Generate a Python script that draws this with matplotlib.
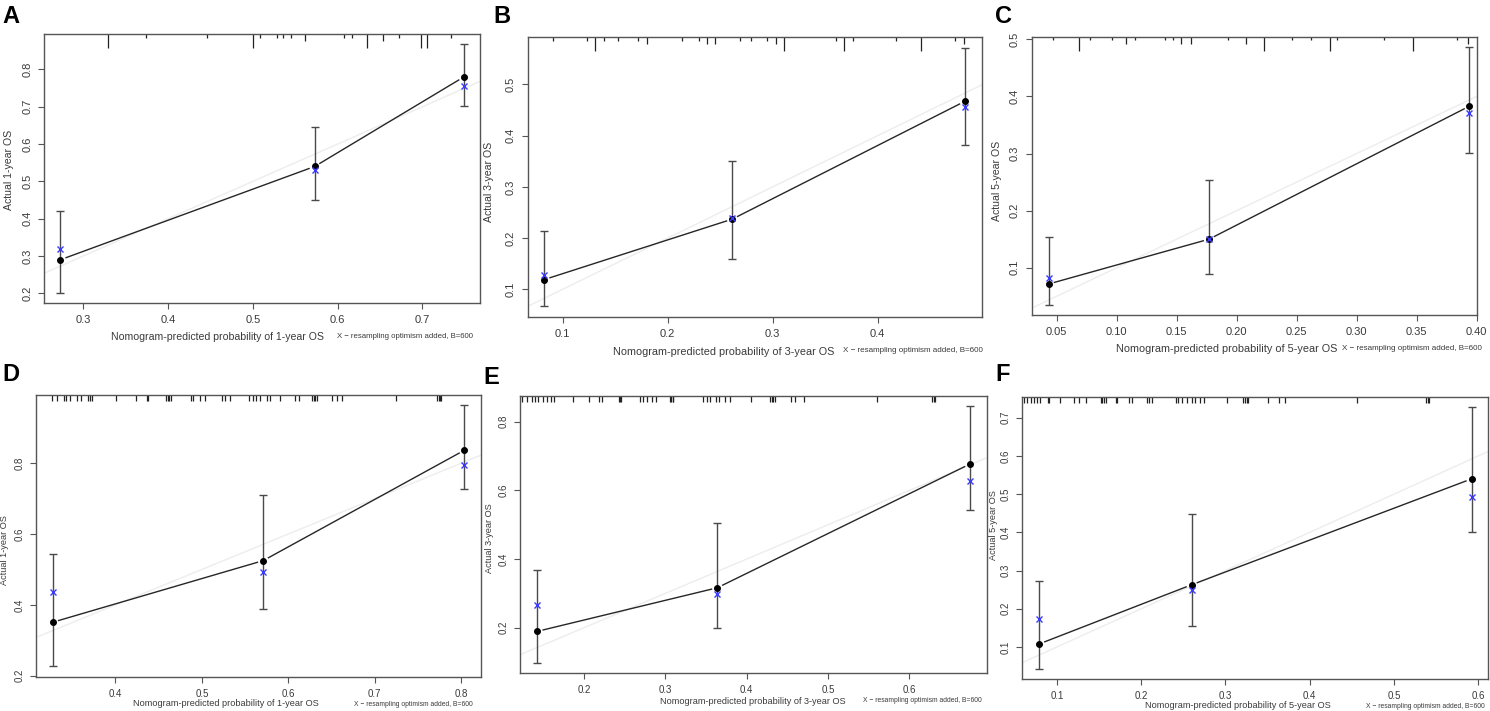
import numpy as np
import matplotlib
matplotlib.use("Agg")
import matplotlib.pyplot as plt
import matplotlib.transforms as mtransforms

plt.rcParams['font.family'] = ['Liberation Sans', 'DejaVu Sans']

W, H = 1490, 711

# ---- data ----
# A: training set, 1-year OS
pred_A = [0.273, 0.573, 0.749]
obs_A = [0.290, 0.540, 0.780]
corr_A = [0.318, 0.530, 0.755]
lo_A = [0.200, 0.450, 0.703]
hi_A = [0.420, 0.645, 0.867]
rug_A = [0.329, 0.374, 0.446, 0.500, 0.509, 0.528, 0.536, 0.545, 0.562,
         0.608, 0.617, 0.635, 0.653, 0.672, 0.698, 0.706, 0.734]
rugn_A = [4, 1, 1, 4, 1, 1, 1, 1, 2, 1, 1, 4, 2, 1, 4, 4, 1]

# B: training set, 3-year OS
pred_B = [0.0825, 0.2615, 0.483]
obs_B = [0.119, 0.237, 0.467]
corr_B = [0.128, 0.240, 0.456]
lo_B = [0.067, 0.160, 0.381]
hi_B = [0.214, 0.351, 0.572]
rug_B = [0.091, 0.123, 0.131, 0.139, 0.153, 0.172, 0.180, 0.214, 0.230,
         0.237, 0.245, 0.269, 0.279, 0.295, 0.303, 0.311, 0.360, 0.368,
         0.376, 0.417, 0.441, 0.474, 0.482]
rugn_B = [1, 1, 4, 1, 1, 1, 2, 1, 1, 2, 2, 1, 1, 1, 2, 4, 1, 4, 1, 1, 4, 1, 2]

# C: training set, 5-year OS
pred_C = [0.0433, 0.177, 0.394]
obs_C = [0.0715, 0.150, 0.383]
corr_C = [0.0825, 0.151, 0.3715]
lo_C = [0.035, 0.089, 0.301]
hi_C = [0.154, 0.253, 0.487]
rug_C = [0.047, 0.069, 0.078, 0.096, 0.108, 0.115, 0.140, 0.147, 0.154,
         0.162, 0.193, 0.208, 0.223, 0.246, 0.262, 0.278, 0.284, 0.323,
         0.347, 0.384, 0.393]
rugn_C = [1, 4, 1, 1, 2, 1, 1, 1, 2, 2, 1, 2, 4, 1, 1, 4, 1, 1, 4, 1, 2]

# D: validation set, 1-year OS
pred_D = [0.3275, 0.571, 0.804]
obs_D = [0.351, 0.525, 0.837]
corr_D = [0.437, 0.492, 0.794]
lo_D = [0.227, 0.388, 0.727]
hi_D = [0.544, 0.710, 0.965]
rug_D = [0.327, 0.332, 0.340, 0.343, 0.347, 0.355, 0.360, 0.368, 0.371,
         0.373, 0.401, 0.424, 0.436, 0.438, 0.459, 0.461, 0.462, 0.464,
         0.487, 0.490, 0.498, 0.504, 0.523, 0.527, 0.533, 0.555, 0.559,
         0.563, 0.567, 0.575, 0.579, 0.590, 0.608, 0.613, 0.628, 0.630,
         0.631, 0.633, 0.651, 0.656, 0.662, 0.725, 0.772, 0.774, 0.776, 0.777]

# E: validation set, 3-year OS
pred_E = [0.1426, 0.364, 0.6747]
obs_E = [0.1895, 0.3165, 0.677]
corr_E = [0.266, 0.298, 0.627]
lo_E = [0.096, 0.198, 0.542]
hi_E = [0.368, 0.504, 0.846]
rug_E = [0.124, 0.130, 0.136, 0.140, 0.143, 0.150, 0.155, 0.159, 0.163,
         0.187, 0.206, 0.218, 0.222, 0.243, 0.244, 0.246, 0.269, 0.273,
         0.278, 0.284, 0.288, 0.306, 0.307, 0.309, 0.310, 0.346, 0.351,
         0.355, 0.362, 0.366, 0.374, 0.380, 0.405, 0.429, 0.431, 0.433,
         0.435, 0.454, 0.460, 0.470, 0.560, 0.628, 0.630, 0.632]

# F: validation set, 5-year OS
pred_F = [0.079, 0.260, 0.592]
obs_F = [0.108, 0.263, 0.540]
corr_F = [0.172, 0.250, 0.492]
lo_F = [0.043, 0.154, 0.401]
hi_F = [0.272, 0.447, 0.728]
rug_F = [0.061, 0.065, 0.069, 0.073, 0.077, 0.080, 0.089, 0.091, 0.104,
         0.120, 0.126, 0.134, 0.152, 0.154, 0.156, 0.158, 0.170, 0.171,
         0.185, 0.189, 0.207, 0.209, 0.213, 0.241, 0.244, 0.249, 0.254,
         0.260, 0.264, 0.270, 0.275, 0.302, 0.321, 0.323, 0.325, 0.327,
         0.351, 0.363, 0.371, 0.456, 0.538, 0.540, 0.541]

xticks_A = [0.3, 0.4, 0.5, 0.6, 0.7]
yticks_A = [0.2, 0.3, 0.4, 0.5, 0.6, 0.7, 0.8]
xticks_B = [0.1, 0.2, 0.3, 0.4]
yticks_B = [0.1, 0.2, 0.3, 0.4, 0.5]
xticks_C = [0.05, 0.10, 0.15, 0.20, 0.25, 0.30, 0.35, 0.40]
yticks_C = [0.1, 0.2, 0.3, 0.4, 0.5]
xticks_D = [0.4, 0.5, 0.6, 0.7, 0.8]
yticks_D = [0.2, 0.4, 0.6, 0.8]
xticks_E = [0.2, 0.3, 0.4, 0.5, 0.6]
yticks_E = [0.2, 0.4, 0.6, 0.8]
xticks_F = [0.1, 0.2, 0.3, 0.4, 0.5, 0.6]
yticks_F = [0.1, 0.2, 0.3, 0.4, 0.5, 0.6, 0.7]

years = {'A': 1, 'B': 3, 'C': 5, 'D': 1, 'E': 3, 'F': 5}
subtitle = 'X \u2212 resampling optimism added, B=600'

# ---- layout (pixel boxes: left, right, top, bottom) ----
layout = {
    'A': dict(box=(44, 480, 34, 303), xlim=(0.2536, 0.768), ylim=(0.174, 0.895),
              xfmt='%g', letter=(2, 5), xlab=(0.397, 337, 7.6), sub=(337, 336, 5.6),
              ylab=(9, 170, 7.6), tick=8.0, rugpx=3.5),
    'B': dict(box=(527.7, 982.3, 37.3, 316.7), xlim=(0.0667, 0.4996), ylim=(0.0465, 0.592),
              xfmt='%g', letter=(493, 5), xlab=(0.432, 352, 7.8), sub=(843, 350, 5.8),
              ylab=(489, 182, 7.6), tick=8.0, rugpx=3.5),
    'C': dict(box=(1031.7, 1477.3, 36.7, 315), xlim=(0.0292, 0.4005), ylim=(0.0172, 0.5046),
              xfmt='%.2f', letter=(995, 5), xlab=(0.438, 349, 7.8), sub=(1342, 348, 5.8),
              ylab=(997, 181, 7.6), tick=8.0, rugpx=3.5),
    'D': dict(box=(36, 480.7, 395, 676.7), xlim=(0.308, 0.8228), ylim=(0.197, 0.993),
              xfmt='%g', letter=(2, 363), xlab=(0.427, 704, 6.6), sub=(354, 704, 4.9),
              ylab=(5, 550, 6.6), tick=7.0, rugpx=6),
    'E': dict(box=(520, 987.3, 395.7, 672.7), xlim=(0.1213, 0.696), ylim=(0.069, 0.876),
              xfmt='%g', letter=(483, 366), xlab=(0.499, 702, 6.6), sub=(863, 701, 4.9),
              ylab=(489, 538, 6.6), tick=7.0, rugpx=6),
    'F': dict(box=(1022.3, 1488, 396.7, 679), xlim=(0.059, 0.6115), ylim=(0.0163, 0.755),
              xfmt='%g', letter=(995, 363), xlab=(0.463, 706, 6.6), sub=(1366, 706, 4.9),
              ylab=(994, 525, 6.6), tick=7.0, rugpx=6),
}

panels = {
    'A': (pred_A, obs_A, corr_A, lo_A, hi_A, rug_A, rugn_A, xticks_A, yticks_A),
    'B': (pred_B, obs_B, corr_B, lo_B, hi_B, rug_B, rugn_B, xticks_B, yticks_B),
    'C': (pred_C, obs_C, corr_C, lo_C, hi_C, rug_C, rugn_C, xticks_C, yticks_C),
    'D': (pred_D, obs_D, corr_D, lo_D, hi_D, rug_D, [1] * len(rug_D), xticks_D, yticks_D),
    'E': (pred_E, obs_E, corr_E, lo_E, hi_E, rug_E, [1] * len(rug_E), xticks_E, yticks_E),
    'F': (pred_F, obs_F, corr_F, lo_F, hi_F, rug_F, [1] * len(rug_F), xticks_F, yticks_F),
}

FRAME = '#555555'
TXT = '#3a3a3a'


def fx(px):
    return px / W


def fy(py):
    return 1 - py / H


def gapped_line(ax, x, y, gap, **kw):
    # like R's type="b": segments stop short of each point
    pts = ax.transData.transform(np.column_stack([x, y]))
    inv = ax.transData.inverted()
    for p0, p1 in zip(pts[:-1], pts[1:]):
        d = p1 - p0
        u = d / np.hypot(*d)
        seg = inv.transform([p0 + u * gap, p1 - u * gap])
        ax.plot(seg[:, 0], seg[:, 1], **kw)


fig = plt.figure(figsize=(W / 100, H / 100), dpi=100)

for key, (pred, obs, corr, lo, hi, rug, rugn, xt, yt) in panels.items():
    lay = layout[key]
    l, r, t, b = lay['box']
    ax = fig.add_axes([fx(l), fy(b), (r - l) / W, (b - t) / H])
    ax.set_xlim(*lay['xlim'])
    ax.set_ylim(*lay['ylim'])

    # ideal line
    lim = [min(lay['xlim'][0], lay['ylim'][0]), max(lay['xlim'][1], lay['ylim'][1])]
    ax.plot(lim, lim, color='#ededed', lw=1.0, zorder=1)

    # apparent calibration line
    gapped_line(ax, pred, obs, 6, color='#262626', lw=1.0, zorder=2)

    # error bars
    obs_a = np.array(obs)
    ax.errorbar(pred, obs, yerr=[obs_a - np.array(lo), np.array(hi) - obs_a],
                fmt='none', ecolor='#4a4a4a', elinewidth=1.0, capsize=3, capthick=1.0,
                zorder=3)
    ax.plot(pred, obs, 'o', color='black', ms=4, zorder=4)
    ax.plot(pred, corr, 'x', color='#3b3bff', ms=4, mew=1.0, zorder=5)

    # rug along the top
    box_h = b - t
    trans = mtransforms.blended_transform_factory(ax.transData, ax.transAxes)
    lens = np.array(rugn) * lay['rugpx'] / box_h
    ax.vlines(rug, 1 - lens, 1, transform=trans, color='#222222', lw=0.9, zorder=2)

    ax.set_xticks(xt)
    ax.set_xticklabels([lay['xfmt'] % v for v in xt])
    ax.set_yticks(yt)
    ax.set_yticklabels(['%g' % v for v in yt], rotation=90, va='center')
    ax.tick_params(direction='out', length=4.5, width=0.8, color=FRAME,
                   labelsize=lay['tick'], labelcolor=TXT, pad=4)
    for s in ax.spines.values():
        s.set_color(FRAME)
        s.set_linewidth(1.0)

    # labels
    xl, yl, fs = lay['xlab']
    fig.text(fx(l + xl * (r - l)), fy(yl),
             'Nomogram-predicted probability of %d-year OS' % years[key],
             ha='center', va='center', fontsize=fs, color=TXT)
    sx, sy, sfs = lay['sub']
    fig.text(fx(sx), fy(sy), subtitle, ha='left', va='center', fontsize=sfs, color=TXT)
    yx, yy, yfs = lay['ylab']
    fig.text(fx(yx), fy(yy), 'Actual %d-year OS' % years[key], rotation=90,
             ha='center', va='center', fontsize=yfs, color=TXT)
    lx, ly = lay['letter']
    fig.text(fx(lx), fy(ly), key, ha='left', va='top', fontsize=17,
             fontweight='bold', color='black')

fig.savefig('out.png', dpi=100)
